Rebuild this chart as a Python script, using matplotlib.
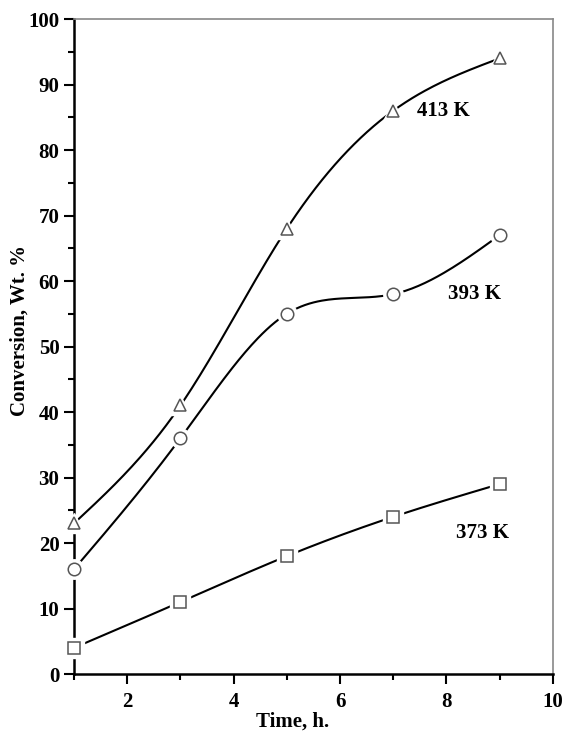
import numpy as np
import matplotlib
matplotlib.use("Agg")
import matplotlib.pyplot as plt
from matplotlib.ticker import MultipleLocator

plt.rcParams['font.family'] = ['Liberation Serif', 'DejaVu Serif']

time_h = [1, 3, 5, 7, 9]
conv_413 = [23, 41, 68, 86, 94]
conv_393 = [16, 36, 55, 58, 67]
conv_373 = [4, 11, 18, 24, 29]

series = [
    ('413 K', conv_413, '^', (7.95, 86)),
    ('393 K', conv_393, 'o', (8.53, 58)),
    ('373 K', conv_373, 's', (8.67, 21.5)),
]


def natural_spline(x, y, n=200):
    # plain natural cubic spline, numpy only
    x = np.asarray(x, float)
    y = np.asarray(y, float)
    k = len(x)
    h = np.diff(x)
    A = np.zeros((k, k))
    r = np.zeros(k)
    A[0, 0] = A[-1, -1] = 1
    for i in range(1, k - 1):
        A[i, i - 1] = h[i - 1]
        A[i, i] = 2 * (h[i - 1] + h[i])
        A[i, i + 1] = h[i]
        r[i] = 6 * ((y[i + 1] - y[i]) / h[i] - (y[i] - y[i - 1]) / h[i - 1])
    m = np.linalg.solve(A, r)
    xs = np.linspace(x[0], x[-1], n)
    idx = np.clip(np.searchsorted(x, xs) - 1, 0, k - 2)
    x0, x1 = x[idx], x[idx + 1]
    hh = x1 - x0
    a = (x1 - xs) / hh
    b = (xs - x0) / hh
    ys = a * y[idx] + b * y[idx + 1] + ((a ** 3 - a) * m[idx] + (b ** 3 - b) * m[idx + 1]) * hh ** 2 / 6
    return xs, ys


fig = plt.figure(figsize=(5.62, 7.38), dpi=100)
ax = fig.add_axes([0.1317, 0.0867, 0.852, 0.8875])

for name, vals, mk, pos in series:
    xs, ys = natural_spline(time_h, vals)
    ax.plot(xs, ys, color='black', lw=1.5, zorder=2)
    # white halo so the line stops short of the marker
    ax.plot(time_h, vals, ls='none', marker=mk, ms=14, mfc='white', mec='white', zorder=3, clip_on=False)
    ax.plot(time_h, vals, ls='none', marker=mk, ms=9, mfc='white', mec='#555555', mew=1.1, zorder=4, clip_on=False)
    ax.text(pos[0], pos[1], name, fontsize=15, fontweight='bold', ha='center', va='center')

ax.set_xlim(1, 10)
ax.set_ylim(0, 100)
ax.xaxis.set_major_locator(MultipleLocator(2))
ax.xaxis.set_minor_locator(MultipleLocator(1))
ax.yaxis.set_major_locator(MultipleLocator(10))
ax.yaxis.set_minor_locator(MultipleLocator(5))
ax.tick_params(which='both', direction='out', width=1.5)
ax.tick_params(which='major', length=7, labelsize=15)
ax.tick_params(axis='x', which='major', pad=6)
ax.tick_params(which='minor', length=4)
for lab in ax.get_xticklabels() + ax.get_yticklabels():
    lab.set_fontweight('bold')

for s in ['left', 'bottom']:
    ax.spines[s].set_linewidth(1.8)
for s in ['top', 'right']:
    ax.spines[s].set_linewidth(1.2)
    ax.spines[s].set_color('#888888')

ax.set_xlabel('Time, h.', fontsize=15, fontweight='bold')
ax.set_ylabel('Conversion, Wt. %', fontsize=15, fontweight='bold')
ax.xaxis.set_label_coords(0.457, -0.073)
ax.yaxis.set_label_coords(-0.113, 0.524)
ax.xaxis.label.set_va('center')
ax.yaxis.label.set_va('center')

fig.savefig('out.png', dpi=100)
